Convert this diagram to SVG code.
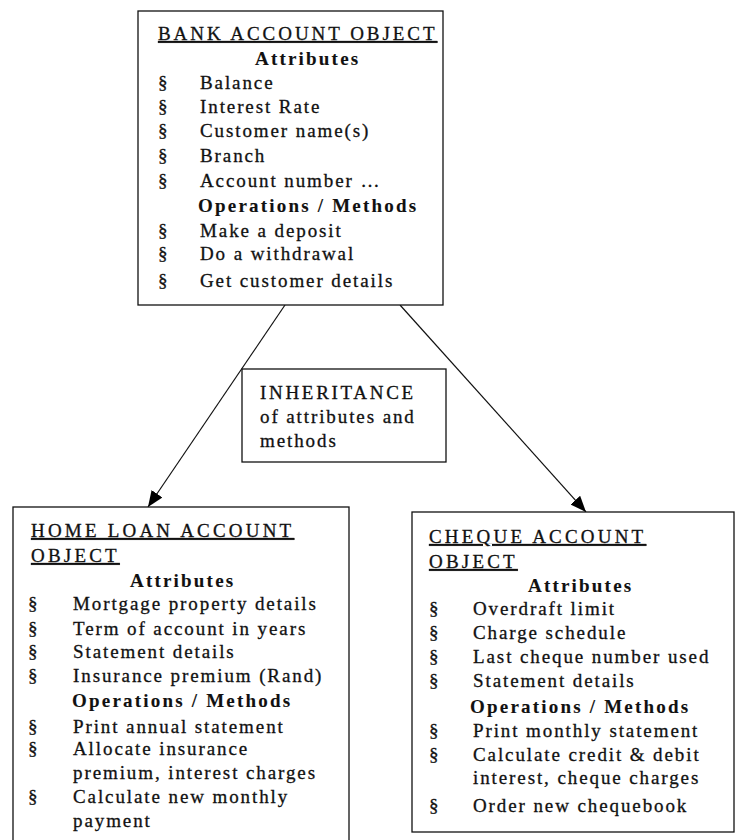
<svg xmlns="http://www.w3.org/2000/svg" width="735" height="840" viewBox="0 0 735 840">
<defs>
<marker id="arr" viewBox="0 0 16 13" refX="16" refY="6.5" markerWidth="16" markerHeight="13" markerUnits="userSpaceOnUse" orient="auto">
<path d="M0,0 L16,6.5 L0,13 Z" fill="#000"/>
</marker>
<style>
text{font-family:"Liberation Serif","Times New Roman",serif;font-size:19px;fill:#111;stroke:#111;stroke-width:0.3px;letter-spacing:1.9px}
.h{letter-spacing:3.2px;text-decoration:underline}
.b{font-weight:bold;letter-spacing:2.2px;stroke-width:0.1px}
.box{fill:#fff;stroke:#111;stroke-width:1.3}
.con{stroke:#111;stroke-width:1.2;fill:none}
</style>
</defs>
<rect width="735" height="840" fill="#fff"/>
<g id="connectors">
<line class="con" x1="285" y1="305" x2="148" y2="507" marker-end="url(#arr)"/>
<line class="con" x1="400" y1="305" x2="586" y2="512" marker-end="url(#arr)"/>
</g>
<g id="bank">
<rect class="box" x="138" y="11" width="305" height="294"/>
<text class="h" x="158" y="40" style="letter-spacing:2.95px">BANK ACCOUNT OBJECT</text>
<text class="b" x="255" y="65">Attributes</text>
<text x="158" y="89">§</text><text x="200" y="89">Balance</text>
<text x="158" y="113">§</text><text x="200" y="113">Interest Rate</text>
<text x="158" y="137">§</text><text x="200" y="137">Customer name(s)</text>
<text x="158" y="162">§</text><text x="200" y="162">Branch</text>
<text x="158" y="187">§</text><text x="200" y="187">Account number …</text>
<text class="b" x="198" y="212">Operations / Methods</text>
<text x="158" y="237">§</text><text x="200" y="237">Make a deposit</text>
<text x="158" y="260">§</text><text x="200" y="260">Do a withdrawal</text>
<text x="158" y="287">§</text><text x="200" y="287">Get customer details</text>
</g>
<g id="inheritance">
<rect class="box" x="242" y="369" width="204" height="93"/>
<text x="260" y="399" style="letter-spacing:2.7px">INHERITANCE</text>
<text x="260" y="423">of attributes and</text>
<text x="260" y="447">methods</text>
</g>
<g id="homeloan">
<rect class="box" x="13" y="507" width="336" height="345"/>
<text class="h" x="31" y="537">HOME LOAN ACCOUNT</text>
<text class="h" x="31" y="562">OBJECT</text>
<text class="b" x="130" y="587">Attributes</text>
<text x="28" y="610">§</text><text x="73" y="610">Mortgage property details</text>
<text x="28" y="635">§</text><text x="73" y="635">Term of account in years</text>
<text x="28" y="658">§</text><text x="73" y="658">Statement details</text>
<text x="28" y="682">§</text><text x="73" y="682">Insurance premium (Rand)</text>
<text class="b" x="72" y="707">Operations / Methods</text>
<text x="28" y="733">§</text><text x="73" y="733">Print annual statement</text>
<text x="28" y="755">§</text><text x="73" y="755">Allocate insurance</text>
<text x="73" y="779">premium, interest charges</text>
<text x="28" y="803">§</text><text x="73" y="803">Calculate new monthly</text>
<text x="73" y="827">payment</text>
</g>
<g id="cheque">
<rect class="box" x="412" y="512" width="322" height="320"/>
<text class="h" x="429" y="543">CHEQUE ACCOUNT</text>
<text class="h" x="429" y="568">OBJECT</text>
<text class="b" x="528" y="592">Attributes</text>
<text x="429" y="615">§</text><text x="473" y="615">Overdraft limit</text>
<text x="429" y="639">§</text><text x="473" y="639">Charge schedule</text>
<text x="429" y="663">§</text><text x="473" y="663">Last cheque number used</text>
<text x="429" y="687">§</text><text x="473" y="687">Statement details</text>
<text class="b" x="470" y="713">Operations / Methods</text>
<text x="429" y="737">§</text><text x="473" y="737">Print monthly statement</text>
<text x="429" y="761">§</text><text x="473" y="761">Calculate credit &amp; debit</text>
<text x="473" y="784">interest, cheque charges</text>
<text x="429" y="812">§</text><text x="473" y="812">Order new chequebook</text>
</g>
</svg>
